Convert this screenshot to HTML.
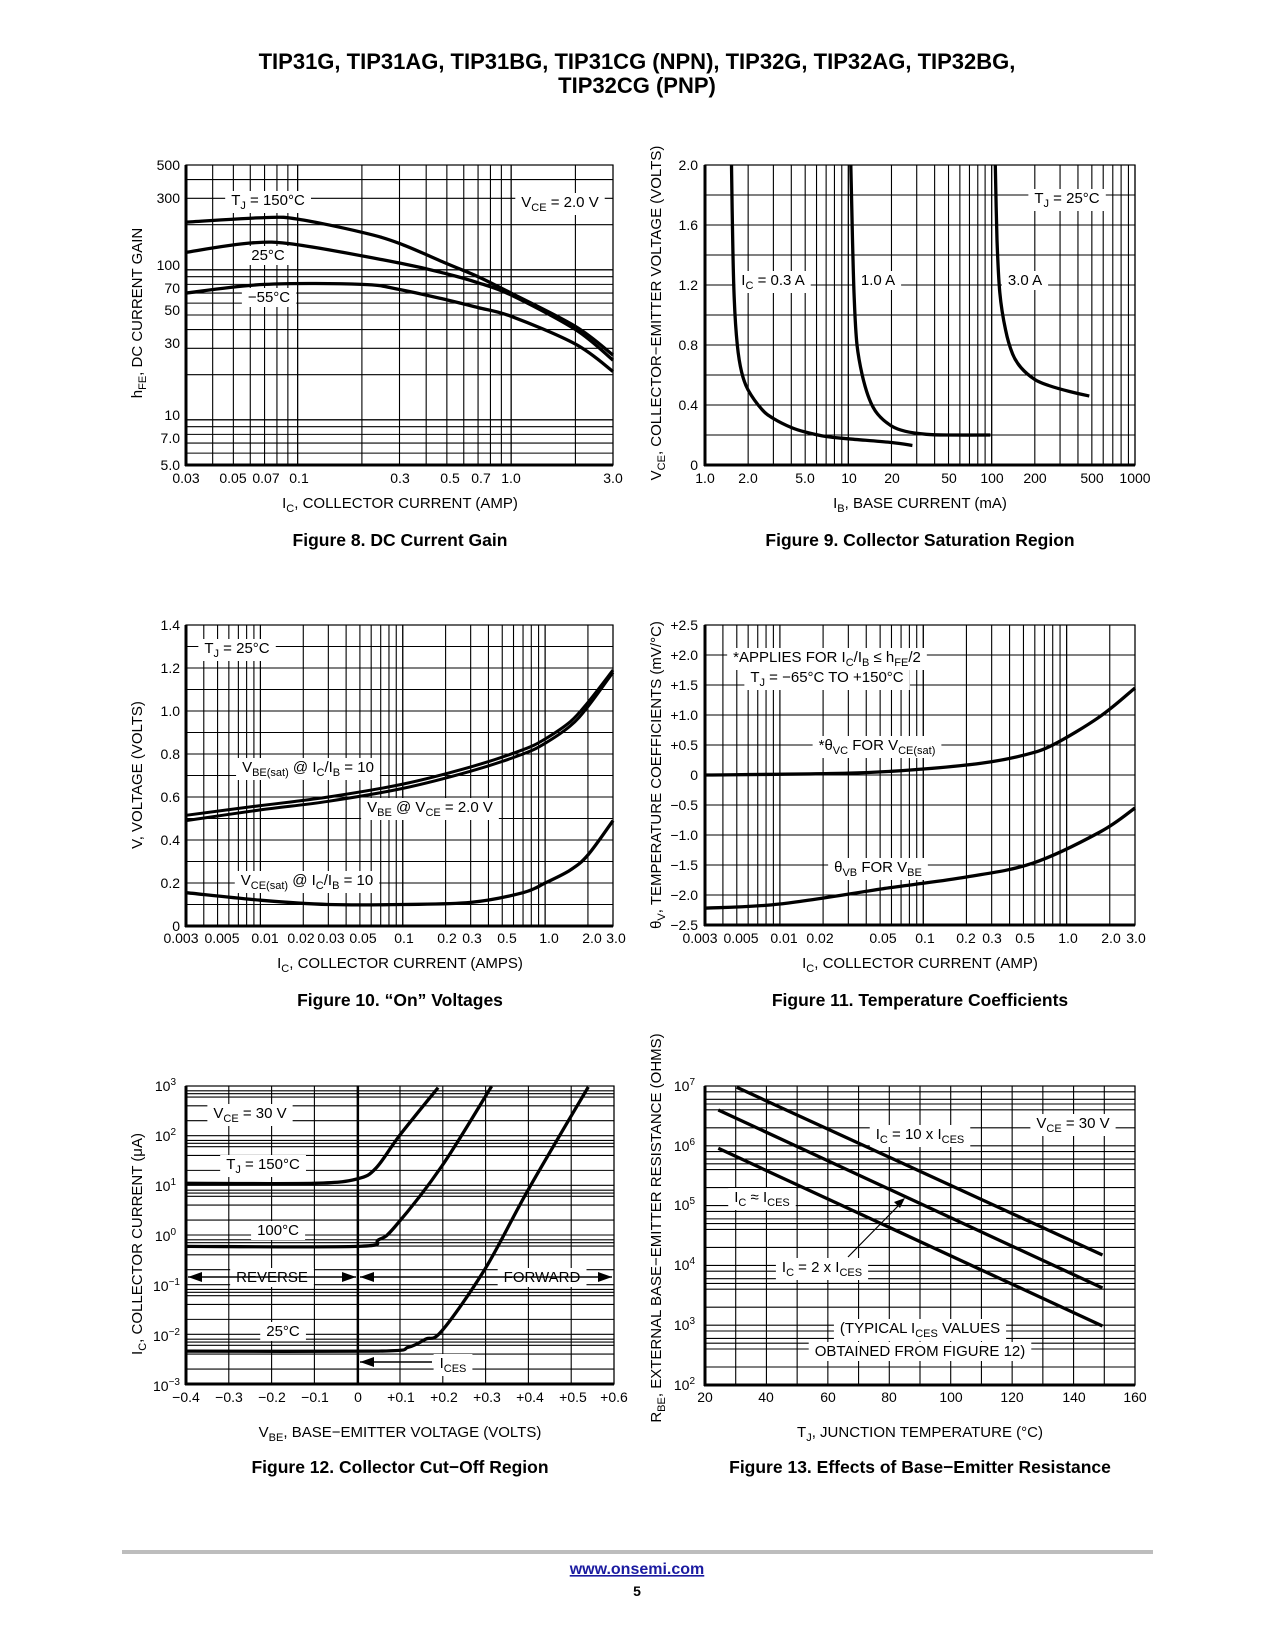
<!DOCTYPE html>
<html><head><meta charset="utf-8">
<style>
html,body{margin:0;padding:0;background:#fff;}
svg{display:block;}
text{font-family:"Liberation Sans",sans-serif;fill:#000;}
.t{font-size:14px;}
.a{font-size:15px;}
.l{font-size:15px;}
.cap{font-size:17.5px;font-weight:bold;}
</style></head>
<body>
<svg id="s" width="1275" height="1650" viewBox="0 0 1275 1650" xmlns="http://www.w3.org/2000/svg">
<rect width="1275" height="1650" fill="#fff"/>
<g id="grid"></g><g id="bg"></g><g id="curves"></g>
<g id="texts">
<text x="637" y="69" text-anchor="middle" style="font-size:22px;font-weight:bold">TIP31G, TIP31AG, TIP31BG, TIP31CG (NPN), TIP32G, TIP32AG, TIP32BG,</text>
<text x="637" y="93" text-anchor="middle" style="font-size:22px;font-weight:bold">TIP32CG (PNP)</text>

<!-- Fig 8 -->
<g class="t" text-anchor="middle">
<text x="186" y="483">0.03</text><text x="233" y="483">0.05</text><text x="266" y="483">0.07</text><text x="299" y="483">0.1</text><text x="400" y="483">0.3</text><text x="450" y="483">0.5</text><text x="481" y="483">0.7</text><text x="511" y="483">1.0</text><text x="613" y="483">3.0</text>
</g>
<g class="t" text-anchor="end">
<text x="180" y="170">500</text><text x="180" y="203">300</text><text x="180" y="270">100</text><text x="180" y="293">70</text><text x="180" y="315">50</text><text x="180" y="348">30</text><text x="180" y="420">10</text><text x="180" y="443">7.0</text><text x="180" y="470">5.0</text>
</g>
<text class="a" x="400" y="508" text-anchor="middle">I<tspan font-size="11" dy="4">C</tspan><tspan dy="-4">, COLLECTOR CURRENT (AMP)</tspan></text>
<text class="a" transform="translate(142,313) rotate(-90)" text-anchor="middle">h<tspan font-size="11" dy="4">FE</tspan><tspan dy="-4">, DC CURRENT GAIN</tspan></text>
<text class="cap" x="400" y="546" text-anchor="middle">Figure 8. DC Current Gain</text>
<text class="l lb" x="268" y="205" text-anchor="middle">T<tspan font-size="11" dy="4">J</tspan><tspan dy="-4"> = 150°C</tspan></text>
<text class="l lb" x="560" y="207" text-anchor="middle">V<tspan font-size="11" dy="4">CE</tspan><tspan dy="-4"> = 2.0 V</tspan></text>
<text class="l lb" x="268" y="260" text-anchor="middle">25°C</text>
<text class="l lb" x="269" y="302" text-anchor="middle">−55°C</text>

<!-- Fig 9 -->
<g class="t" text-anchor="middle">
<text x="705" y="483">1.0</text><text x="748" y="483">2.0</text><text x="805" y="483">5.0</text><text x="849" y="483">10</text><text x="892" y="483">20</text><text x="949" y="483">50</text><text x="992" y="483">100</text><text x="1035" y="483">200</text><text x="1092" y="483">500</text><text x="1135" y="483">1000</text>
</g>
<g class="t" text-anchor="end">
<text x="698" y="170">2.0</text><text x="698" y="230">1.6</text><text x="698" y="290">1.2</text><text x="698" y="350">0.8</text><text x="698" y="410">0.4</text><text x="698" y="470">0</text>
</g>
<text class="a" x="920" y="508" text-anchor="middle">I<tspan font-size="11" dy="4">B</tspan><tspan dy="-4">, BASE CURRENT (mA)</tspan></text>
<text class="a" transform="translate(661,313) rotate(-90)" text-anchor="middle">V<tspan font-size="11" dy="4">CE</tspan><tspan dy="-4">, COLLECTOR−EMITTER VOLTAGE (VOLTS)</tspan></text>
<text class="cap" x="920" y="546" text-anchor="middle">Figure 9. Collector Saturation Region</text>
<text class="l lb" x="773" y="285" text-anchor="middle">I<tspan font-size="11" dy="4">C</tspan><tspan dy="-4"> = 0.3 A</tspan></text>
<text class="l lb" x="878" y="285" text-anchor="middle">1.0 A</text>
<text class="l lb" x="1025" y="285" text-anchor="middle">3.0 A</text>
<text class="l lb" x="1067" y="203" text-anchor="middle">T<tspan font-size="11" dy="4">J</tspan><tspan dy="-4"> = 25°C</tspan></text>

<!-- Fig 10 -->
<g class="t" text-anchor="middle">
<text x="181" y="943">0.003</text><text x="222" y="943">0.005</text><text x="265" y="943">0.01</text><text x="301" y="943">0.02</text><text x="331" y="943">0.03</text><text x="363" y="943">0.05</text><text x="404" y="943">0.1</text><text x="447" y="943">0.2</text><text x="472" y="943">0.3</text><text x="507" y="943">0.5</text><text x="549" y="943">1.0</text><text x="592" y="943">2.0</text><text x="616" y="943">3.0</text>
</g>
<g class="t" text-anchor="end">
<text x="180" y="630">1.4</text><text x="180" y="673">1.2</text><text x="180" y="716">1.0</text><text x="180" y="759">0.8</text><text x="180" y="802">0.6</text><text x="180" y="845">0.4</text><text x="180" y="888">0.2</text><text x="180" y="931">0</text>
</g>
<text class="a" x="400" y="968" text-anchor="middle">I<tspan font-size="11" dy="4">C</tspan><tspan dy="-4">, COLLECTOR CURRENT (AMPS)</tspan></text>
<text class="a" transform="translate(142,775) rotate(-90)" text-anchor="middle">V, VOLTAGE (VOLTS)</text>
<text class="cap" x="400" y="1006" text-anchor="middle">Figure 10. “On” Voltages</text>
<text class="l lb" x="237" y="653" text-anchor="middle">T<tspan font-size="11" dy="4">J</tspan><tspan dy="-4"> = 25°C</tspan></text>
<text class="l lb" x="308" y="772" text-anchor="middle">V<tspan font-size="11" dy="4">BE(sat)</tspan><tspan dy="-4"> @ I</tspan><tspan font-size="11" dy="4">C</tspan><tspan dy="-4">/I</tspan><tspan font-size="11" dy="4">B</tspan><tspan dy="-4"> = 10</tspan></text>
<text class="l lb" x="430" y="812" text-anchor="middle">V<tspan font-size="11" dy="4">BE</tspan><tspan dy="-4"> @ V</tspan><tspan font-size="11" dy="4">CE</tspan><tspan dy="-4"> = 2.0 V</tspan></text>
<text class="l lb" x="307" y="885" text-anchor="middle">V<tspan font-size="11" dy="4">CE(sat)</tspan><tspan dy="-4"> @ I</tspan><tspan font-size="11" dy="4">C</tspan><tspan dy="-4">/I</tspan><tspan font-size="11" dy="4">B</tspan><tspan dy="-4"> = 10</tspan></text>

<!-- Fig 11 -->
<g class="t" text-anchor="middle">
<text x="700" y="943">0.003</text><text x="741" y="943">0.005</text><text x="784" y="943">0.01</text><text x="820" y="943">0.02</text><text x="883" y="943">0.05</text><text x="925" y="943">0.1</text><text x="966" y="943">0.2</text><text x="992" y="943">0.3</text><text x="1025" y="943">0.5</text><text x="1068" y="943">1.0</text><text x="1111" y="943">2.0</text><text x="1136" y="943">3.0</text>
</g>
<g class="t" text-anchor="end">
<text x="698" y="630">+2.5</text><text x="698" y="660">+2.0</text><text x="698" y="690">+1.5</text><text x="698" y="720">+1.0</text><text x="698" y="750">+0.5</text><text x="698" y="780">0</text><text x="698" y="810">−0.5</text><text x="698" y="840">−1.0</text><text x="698" y="870">−1.5</text><text x="698" y="900">−2.0</text><text x="698" y="930">−2.5</text>
</g>
<text class="a" x="920" y="968" text-anchor="middle">I<tspan font-size="11" dy="4">C</tspan><tspan dy="-4">, COLLECTOR CURRENT (AMP)</tspan></text>
<text class="a" transform="translate(661,775) rotate(-90)" text-anchor="middle">θ<tspan font-size="11" dy="4">V</tspan><tspan dy="-4">, TEMPERATURE COEFFICIENTS (mV/°C)</tspan></text>
<text class="cap" x="920" y="1006" text-anchor="middle">Figure 11. Temperature Coefficients</text>
<text class="l lb" x="827" y="662" text-anchor="middle">*APPLIES FOR I<tspan font-size="11" dy="4">C</tspan><tspan dy="-4">/I</tspan><tspan font-size="11" dy="4">B</tspan><tspan dy="-4"> ≤ h</tspan><tspan font-size="11" dy="4">FE</tspan><tspan dy="-4">/2</tspan></text>
<text class="l lb" x="827" y="682" text-anchor="middle">T<tspan font-size="11" dy="4">J</tspan><tspan dy="-4"> = −65°C TO +150°C</tspan></text>
<text class="l lb" x="877" y="750" text-anchor="middle">*θ<tspan font-size="11" dy="4">VC</tspan><tspan dy="-4"> FOR V</tspan><tspan font-size="11" dy="4">CE(sat)</tspan></text>
<text class="l lb" x="878" y="872" text-anchor="middle">θ<tspan font-size="11" dy="4">VB</tspan><tspan dy="-4"> FOR V</tspan><tspan font-size="11" dy="4">BE</tspan></text>

<!-- Fig 12 -->
<g class="t" text-anchor="middle">
<text x="186" y="1402">−0.4</text><text x="229" y="1402">−0.3</text><text x="272" y="1402">−0.2</text><text x="315" y="1402">−0.1</text><text x="358" y="1402">0</text><text x="401" y="1402">+0.1</text><text x="444" y="1402">+0.2</text><text x="487" y="1402">+0.3</text><text x="530" y="1402">+0.4</text><text x="573" y="1402">+0.5</text><text x="614" y="1402">+0.6</text>
</g>
<g class="t" text-anchor="end">
<text x="176" y="1091">10<tspan font-size="10" dy="-6">3</tspan></text>
<text x="176" y="1141">10<tspan font-size="10" dy="-6">2</tspan></text>
<text x="176" y="1191">10<tspan font-size="10" dy="-6">1</tspan></text>
<text x="176" y="1241">10<tspan font-size="10" dy="-6">0</tspan></text>
<text x="180" y="1291">10<tspan font-size="10" dy="-6">−1</tspan></text>
<text x="180" y="1341">10<tspan font-size="10" dy="-6">−2</tspan></text>
<text x="180" y="1391">10<tspan font-size="10" dy="-6">−3</tspan></text>
</g>
<text class="a" x="400" y="1437" text-anchor="middle">V<tspan font-size="11" dy="4">BE</tspan><tspan dy="-4">, BASE−EMITTER VOLTAGE (VOLTS)</tspan></text>
<text class="a" transform="translate(142,1244) rotate(-90)" text-anchor="middle">I<tspan font-size="11" dy="4">C</tspan><tspan dy="-4">, COLLECTOR CURRENT (μA)</tspan></text>
<text class="cap" x="400" y="1473" text-anchor="middle">Figure 12. Collector Cut−Off Region</text>
<text class="l lb" x="250" y="1118" text-anchor="middle">V<tspan font-size="11" dy="4">CE</tspan><tspan dy="-4"> = 30 V</tspan></text>
<text class="l lb" x="263" y="1169" text-anchor="middle">T<tspan font-size="11" dy="4">J</tspan><tspan dy="-4"> = 150°C</tspan></text>
<text class="l lb" x="278" y="1235" text-anchor="middle">100°C</text>
<text class="l lb" x="272" y="1282" text-anchor="middle">REVERSE</text>
<text class="l lb" x="542" y="1282" text-anchor="middle">FORWARD</text>
<text class="l lb" x="283" y="1336" text-anchor="middle">25°C</text>
<text class="l lb" x="453" y="1368" text-anchor="middle">I<tspan font-size="11" dy="4">CES</tspan></text>

<!-- Fig 13 -->
<g class="t" text-anchor="middle">
<text x="705" y="1402">20</text><text x="766" y="1402">40</text><text x="828" y="1402">60</text><text x="889" y="1402">80</text><text x="951" y="1402">100</text><text x="1012" y="1402">120</text><text x="1074" y="1402">140</text><text x="1135" y="1402">160</text>
</g>
<g class="t" text-anchor="end">
<text x="695" y="1091">10<tspan font-size="10" dy="-6">7</tspan></text>
<text x="695" y="1151">10<tspan font-size="10" dy="-6">6</tspan></text>
<text x="695" y="1210">10<tspan font-size="10" dy="-6">5</tspan></text>
<text x="695" y="1270">10<tspan font-size="10" dy="-6">4</tspan></text>
<text x="695" y="1330">10<tspan font-size="10" dy="-6">3</tspan></text>
<text x="695" y="1390">10<tspan font-size="10" dy="-6">2</tspan></text>
</g>
<text class="a" x="920" y="1437" text-anchor="middle">T<tspan font-size="11" dy="4">J</tspan><tspan dy="-4">, JUNCTION TEMPERATURE (°C)</tspan></text>
<text class="a" transform="translate(661,1228) rotate(-90)" text-anchor="middle">R<tspan font-size="11" dy="4">BE</tspan><tspan dy="-4">, EXTERNAL BASE−EMITTER RESISTANCE (OHMS)</tspan></text>
<text class="cap" x="920" y="1473" text-anchor="middle">Figure 13. Effects of Base−Emitter Resistance</text>
<text class="l lb" x="1073" y="1128" text-anchor="middle">V<tspan font-size="11" dy="4">CE</tspan><tspan dy="-4"> = 30 V</tspan></text>
<text class="l lb" x="920" y="1139" text-anchor="middle">I<tspan font-size="11" dy="4">C</tspan><tspan dy="-4"> = 10 x I</tspan><tspan font-size="11" dy="4">CES</tspan></text>
<text class="l lb" x="762" y="1202" text-anchor="middle">I<tspan font-size="11" dy="4">C</tspan><tspan dy="-4"> ≈ I</tspan><tspan font-size="11" dy="4">CES</tspan></text>
<text class="l lb" x="822" y="1272" text-anchor="middle">I<tspan font-size="11" dy="4">C</tspan><tspan dy="-4"> = 2 x I</tspan><tspan font-size="11" dy="4">CES</tspan></text>
<text class="l lb" x="920" y="1333" text-anchor="middle">(TYPICAL I<tspan font-size="11" dy="4">CES</tspan><tspan dy="-4"> VALUES</tspan></text>
<text class="l lb" x="920" y="1356" text-anchor="middle">OBTAINED FROM FIGURE 12)</text>

<!-- footer -->
<line x1="122" y1="1552" x2="1153" y2="1552" stroke="#bdbdbd" stroke-width="4"/>
<text x="637" y="1574" text-anchor="middle" style="font-size:16px;font-weight:bold;fill:#1a1aa0;text-decoration:underline">www.onsemi.com</text>
<text x="637" y="1596" text-anchor="middle" style="font-size:14px;font-weight:bold">5</text>
</g>
</svg>
<script>
(function(){
var NS="http://www.w3.org/2000/svg";
function el(t,a,p){var e=document.createElementNS(NS,t);for(var k in a)e.setAttribute(k,a[k]);p.appendChild(e);return e;}
var G=document.getElementById('grid'),B=document.getElementById('bg'),C=document.getElementById('curves');
function lg(a,b,p0,p1){return function(v){return p0+(p1-p0)*Math.log10(v/a)/Math.log10(b/a);};}
function ln(a,b,p0,p1){return function(v){return p0+(p1-p0)*(v-a)/(b-a);};}
function logs(a,b,ms){ms=ms||[1,2,3,4,5,6,7,8,9];var r=[];for(var d=Math.pow(10,Math.floor(Math.log10(a)+1e-9));d<=b*1.0001;d*=10){[1].concat(ms).forEach(function(m){var v=m*d;if(v>=a*0.9999&&v<=b*1.0001)r.push(v);});}return r;}
function lins(a,b,s){var r=[];for(var v=a;v<=b+s*1e-6;v+=s)r.push(v);return r;}
function chart(c,xs,ys){
 xs.forEach(function(v){var x=c.fx(v);el('line',{x1:x,y1:c.t,x2:x,y2:c.b,stroke:'#000','stroke-width':1.1},G);});
 ys.forEach(function(v){var y=c.fy(v);el('line',{x1:c.l,y1:y,x2:c.r,y2:y,stroke:'#000','stroke-width':1.1},G);});
 el('rect',{x:c.l,y:c.t,width:c.r-c.l,height:c.b-c.t,fill:'none',stroke:'#000','stroke-width':1.2},G);
 el('line',{x1:c.l,y1:c.t,x2:c.l,y2:c.b+1,stroke:'#000','stroke-width':3},G);
 el('line',{x1:c.l-1,y1:c.b,x2:c.r,y2:c.b,stroke:'#000','stroke-width':3},G);
}
function curve(c,pts,w){
 var p=pts.map(function(q){return [c.fx(q[0]),c.fy(q[1])];});
 var d='M'+p[0][0].toFixed(1)+','+p[0][1].toFixed(1);
 for(var i=0;i<p.length-1;i++){
  var p0=p[i-1]||p[i],p1=p[i],p2=p[i+1],p3=p[i+2]||p2;
  var c1=[p1[0]+(p2[0]-p0[0])/6,p1[1]+(p2[1]-p0[1])/6],c2=[p2[0]-(p3[0]-p1[0])/6,p2[1]-(p3[1]-p1[1])/6];
  d+=' C'+c1[0].toFixed(1)+','+c1[1].toFixed(1)+' '+c2[0].toFixed(1)+','+c2[1].toFixed(1)+' '+p2[0].toFixed(1)+','+p2[1].toFixed(1);
 }
 el('path',{d:d,fill:'none',stroke:'#000','stroke-width':w||3.3,'stroke-linejoin':'round'},C);
}
var c8={l:186,r:613,t:165,b:465};c8.fx=lg(0.03,3,186,613);c8.fy=lg(5,500,465,165);
chart(c8,logs(0.03,3),logs(5,500));
curve(c8,[[0.03,208],[0.07,223],[0.1,218],[0.2,178],[0.3,150],[0.5,110],[0.7,90],[1,70],[2,42],[3,27]]);
curve(c8,[[0.03,131],[0.06,151],[0.1,147],[0.3,111],[0.5,94],[0.7,82],[1,68],[2,40],[3,25]]);
curve(c8,[[0.03,70],[0.07,80],[0.2,80],[0.3,74],[0.5,63],[0.7,56],[1,49],[2,32],[3,21]]);

var c9={l:705,r:1135,t:165,b:465};c9.fx=lg(1,1000,705,1135);c9.fy=ln(0,2,465,165);
chart(c9,logs(1,1000),lins(0,2,0.2));
curve(c9,[[1.53,2],[1.56,1.5],[1.6,1.1],[1.68,0.8],[1.8,0.62],[2,0.5],[2.5,0.37],[3,0.31],[4,0.25],[5,0.22],[7,0.19],[10,0.175],[20,0.15],[28,0.13]]);
curve(c9,[[10.4,2],[10.7,1.5],[11,1.1],[11.5,0.8],[12.5,0.6],[14,0.44],[16,0.34],[20,0.26],[25,0.225],[35,0.205],[50,0.2],[98,0.2]]);
curve(c9,[[106,2],[109,1.5],[114,1.15],[125,0.9],[140,0.74],[160,0.65],[200,0.57],[250,0.53],[350,0.49],[480,0.46]]);

var c10={l:186,r:613,t:625,b:926};c10.fx=lg(0.003,3,186,613);c10.fy=ln(0,1.4,926,625);
chart(c10,logs(0.003,3),lins(0,1.4,0.1));
curve(c10,[[0.003,0.515],[0.01,0.56],[0.03,0.6],[0.1,0.66],[0.3,0.74],[0.7,0.82],[1,0.87],[1.5,0.95],[2,1.04],[3,1.19]],3);
curve(c10,[[0.003,0.49],[0.01,0.54],[0.03,0.58],[0.1,0.64],[0.3,0.72],[0.7,0.8],[1,0.85],[1.5,0.93],[2,1.02],[3,1.18]],3);
curve(c10,[[0.003,0.155],[0.01,0.12],[0.03,0.1],[0.1,0.1],[0.3,0.11],[0.7,0.155],[1,0.2],[1.5,0.26],[2,0.33],[3,0.49]]);

var c11={l:705,r:1135,t:625,b:925};c11.fx=lg(0.003,3,705,1135);c11.fy=ln(-2.5,2.5,925,625);
chart(c11,logs(0.003,3),lins(-2.5,2.5,0.5));
curve(c11,[[0.003,0],[0.03,0.03],[0.1,0.1],[0.26,0.2],[0.5,0.33],[0.8,0.5],[1.7,0.97],[3,1.45]]);
curve(c11,[[0.003,-2.22],[0.01,-2.15],[0.058,-1.88],[0.2,-1.7],[0.58,-1.47],[1.71,-0.95],[3,-0.55]]);

var c12={l:186,r:614,t:1086,b:1384};c12.fx=ln(-0.4,0.6,186,614);c12.fy=lg(1e-3,1e3,1384,1086);
chart(c12,lins(-0.4,0.6,0.1),logs(1e-3,1e3,[2,4,6,7,8]));
el('line',{x1:358,y1:1086,x2:358,y2:1384,stroke:'#000','stroke-width':2.2},G);
curve(c12,[[-0.4,11],[-0.1,11],[0,13.5],[0.0435,22],[0.098,98],[0.189,930]]);
curve(c12,[[-0.4,0.59],[0,0.59],[0.05,0.8],[0.0876,1.45],[0.198,24.5],[0.314,990]]);
curve(c12,[[-0.4,0.0046],[0.05,0.0046],[0.12,0.0055],[0.16,0.008],[0.198,0.0118],[0.299,0.21],[0.4,8.3],[0.54,960]]);
function arr(x,y,dir){el('path',{d:'M'+x+','+y+' l'+(-dir*14)+',-5 l0,10 z',fill:'#000'},C);}
var ya=1277;
el('line',{x1:188,y1:ya,x2:356,y2:ya,stroke:'#000','stroke-width':1.5},C);arr(188,ya,-1);arr(356,ya,1);
el('line',{x1:360,y1:ya,x2:612,y2:ya,stroke:'#000','stroke-width':1.5},C);arr(360,ya,-1);arr(612,ya,1);
el('line',{x1:360,y1:1362,x2:432,y2:1362,stroke:'#000','stroke-width':1.5},C);arr(360,1362,-1);

var c13={l:705,r:1135,t:1086,b:1385};c13.fx=ln(20,160,705,1135);c13.fy=lg(1e2,1e7,1385,1086);
chart(c13,lins(20,160,10),logs(1e2,1e7,[2,4,5,6,8]));
el('line',{x1:736.7,y1:1087.3,x2:1102.5,y2:1255,stroke:'#000','stroke-width':3.3},C);
el('line',{x1:718.3,y1:1110,x2:1102.5,y2:1288,stroke:'#000','stroke-width':3.3},C);
el('line',{x1:718.3,y1:1148.3,x2:1102.5,y2:1326,stroke:'#000','stroke-width':3.3},C);
el('line',{x1:848,y1:1257,x2:900,y2:1204,stroke:'#000','stroke-width':1.2},C);
el('path',{d:'M905,1198 l-11,4 l6,6 z',fill:'#000'},C);

var lb=document.querySelectorAll('.lb');
for(var i=0;i<lb.length;i++){var bb=lb[i].getBBox();el('rect',{x:bb.x-6,y:bb.y-1,width:bb.width+12,height:bb.height+2,fill:'#fff'},B);}
})();
</script>
</body></html>
